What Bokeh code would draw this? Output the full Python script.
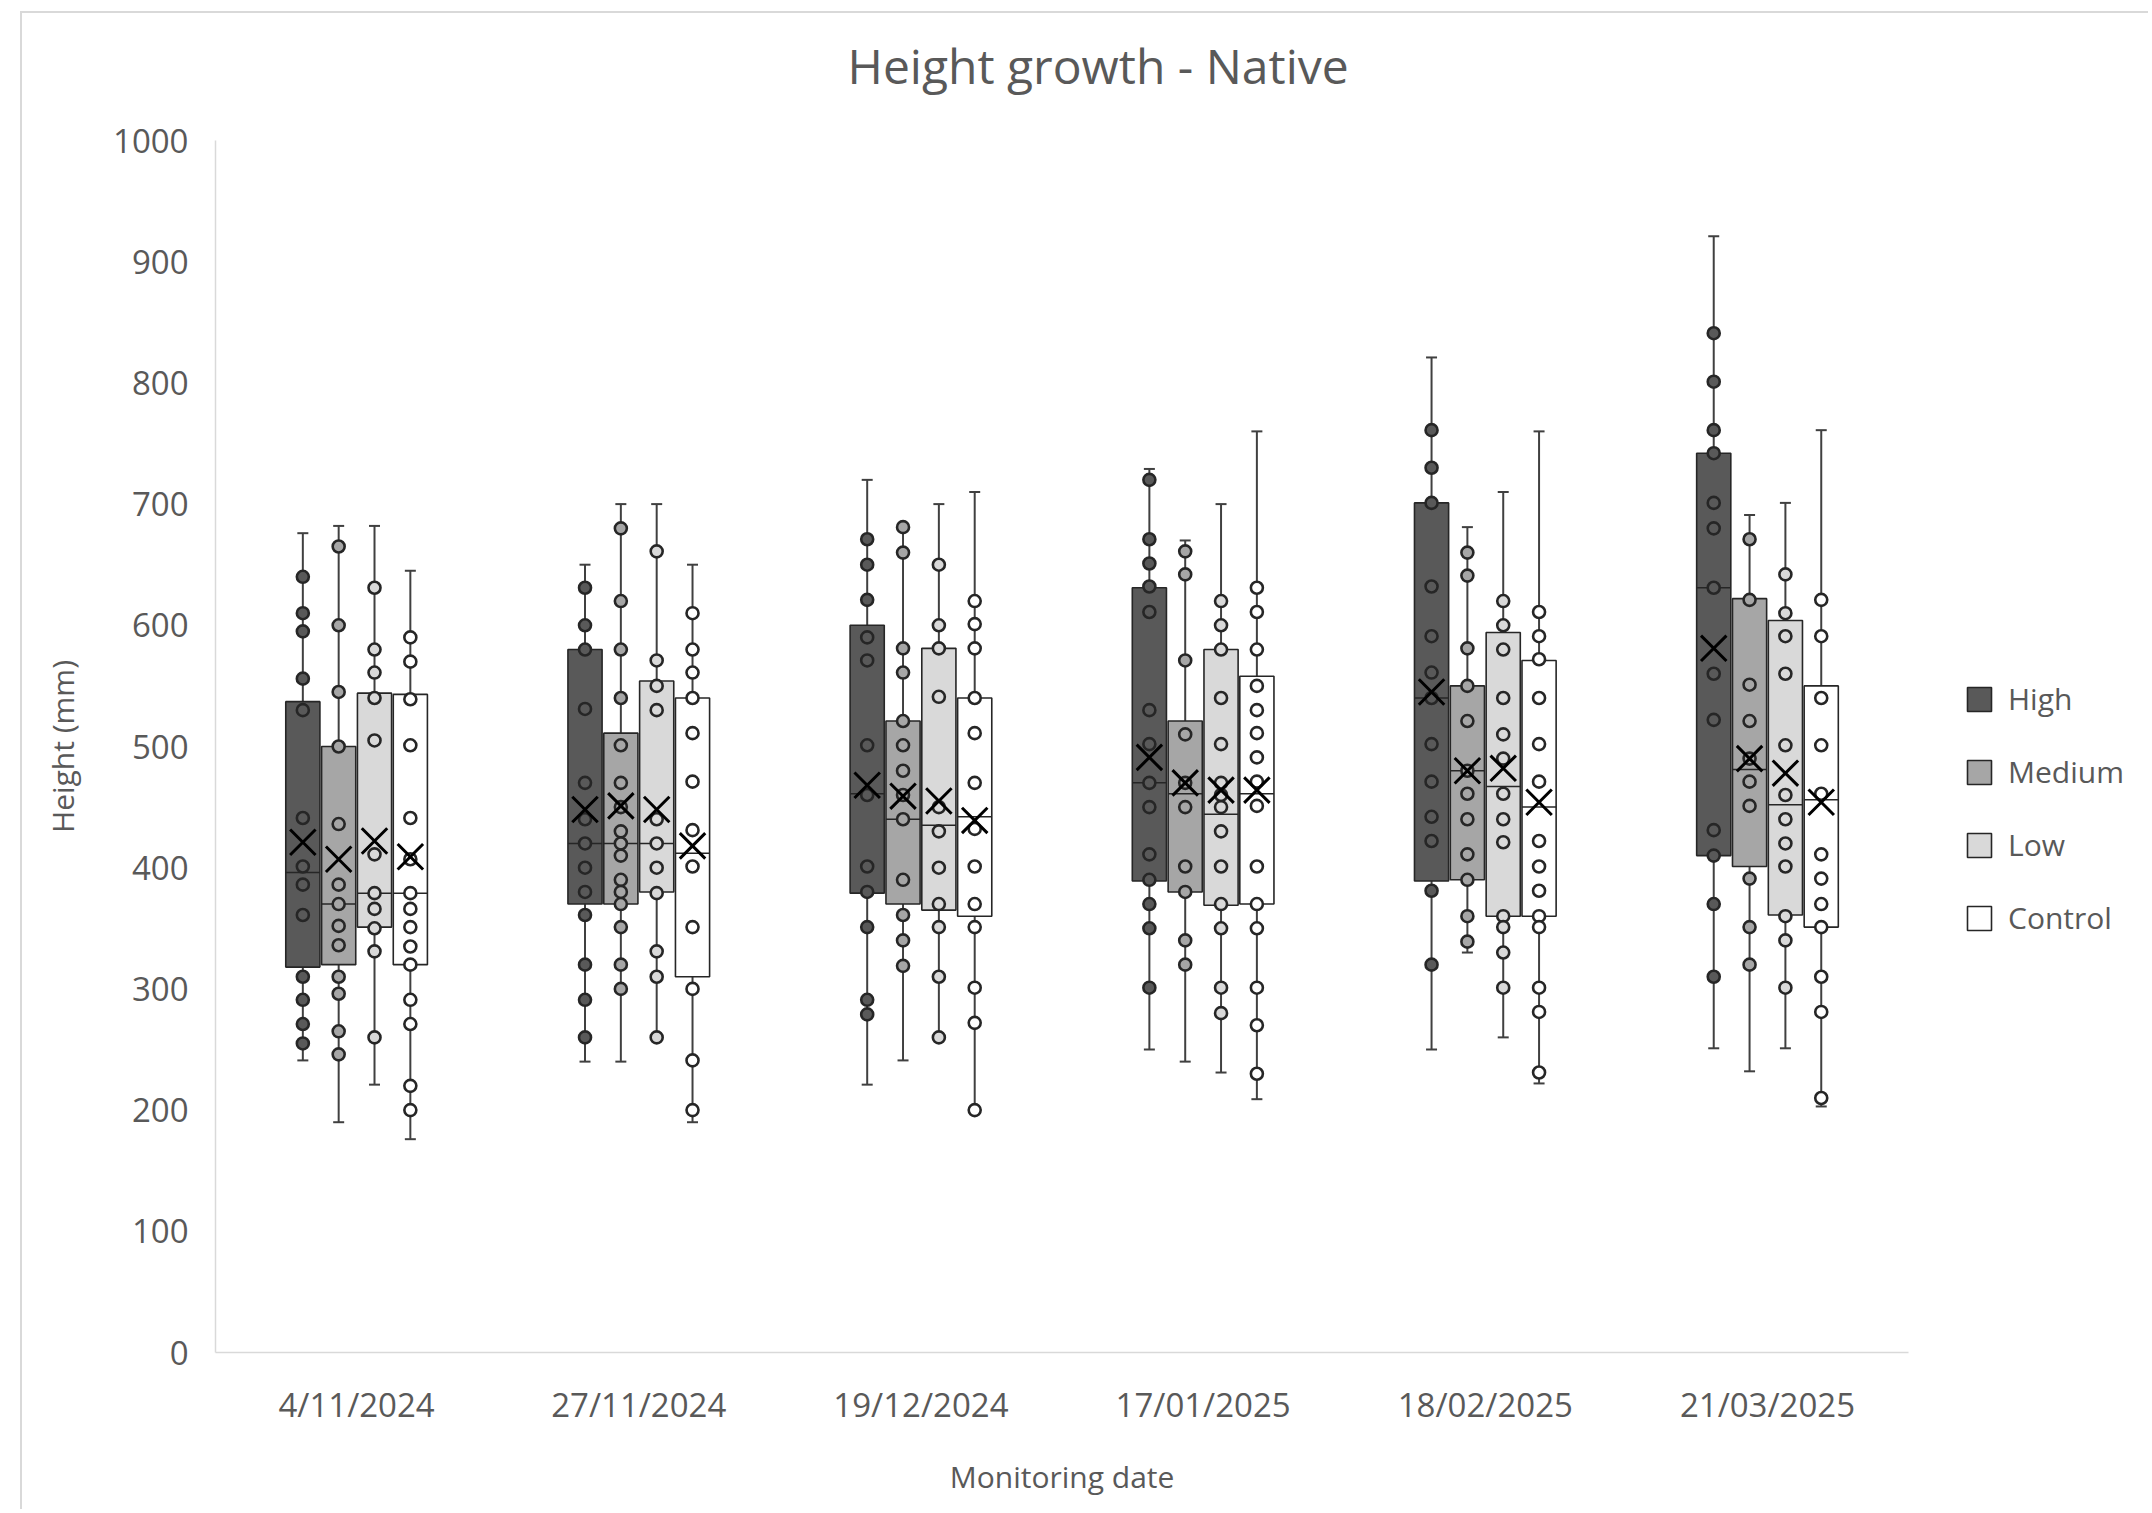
from bokeh.plotting import figure
from bokeh.models import ColumnDataSource, FixedTicker, Legend, LegendItem, Range1d, Title
from bokeh.transform import dodge
from bokeh.embed import file_html
from bokeh.resources import INLINE

# ---------------- data ----------------
dates = ["4/11/2024", "27/11/2024", "19/12/2024", "17/01/2025", "18/02/2025", "21/03/2025"]
series = ["High", "Medium", "Low", "Control"]
y_ticks = [0, 100, 200, 300, 400, 500, 600, 700, 800, 900, 1000]

high_min = [241, 240, 221, 250, 250, 251]
high_q1 = [318, 370, 379, 389, 389, 410]
high_median = [396, 420, 461, 470, 540, 631]
high_q3 = [537, 580, 600, 631, 701, 742]
high_max = [676, 650, 720, 729, 821, 921]
high_mean = [421, 448, 468, 491, 545, 581]
high_points = [
    [640, 610, 595, 556, 530, 441, 401, 386, 361, 310, 291, 271, 255],
    [631, 600, 580, 531, 470, 440, 420, 400, 380, 361, 320, 291, 260],
    [671, 650, 621, 590, 571, 501, 460, 401, 380, 351, 291, 279],
    [720, 671, 651, 632, 611, 530, 502, 470, 450, 411, 390, 370, 350, 301],
    [761, 730, 701, 632, 591, 561, 540, 502, 471, 442, 422, 381, 320],
    [841, 801, 761, 742, 701, 680, 631, 560, 522, 431, 410, 370, 310],
]

medium_min = [190, 240, 241, 240, 330, 232]
medium_q1 = [320, 370, 370, 380, 390, 401]
medium_median = [370, 420, 440, 461, 480, 481]
medium_q3 = [500, 511, 521, 521, 550, 622]
medium_max = [682, 700, 681, 670, 681, 691]
medium_mean = [407, 451, 459, 470, 480, 490]
medium_points = [
    [665, 600, 545, 500, 436, 386, 370, 352, 336, 310, 296, 265, 246],
    [680, 620, 580, 540, 501, 470, 450, 430, 420, 410, 390, 380, 370, 351, 320, 300],
    [681, 660, 581, 561, 521, 501, 480, 460, 440, 390, 361, 340, 319],
    [661, 642, 571, 510, 470, 450, 401, 380, 340, 320],
    [660, 641, 581, 550, 521, 480, 461, 440, 411, 390, 360, 339],
    [671, 621, 551, 521, 490, 471, 451, 391, 351, 320],
]

low_min = [221, 260, 260, 231, 260, 251]
low_q1 = [351, 380, 365, 369, 360, 361]
low_median = [379, 420, 435, 444, 467, 452]
low_q3 = [544, 554, 581, 580, 594, 604]
low_max = [682, 700, 700, 700, 710, 701]
low_mean = [422, 448, 455, 464, 482, 478]
low_points = [
    [631, 580, 561, 540, 505, 411, 379, 366, 350, 331, 260],
    [661, 571, 550, 530, 440, 420, 400, 379, 331, 310, 260],
    [650, 600, 581, 541, 450, 430, 400, 370, 351, 310, 260],
    [620, 600, 580, 540, 502, 470, 460, 450, 430, 401, 370, 350, 301, 280],
    [620, 600, 580, 540, 510, 490, 461, 440, 421, 360, 351, 330, 301],
    [642, 610, 591, 560, 501, 460, 440, 420, 401, 360, 340, 301],
]

control_min = [176, 190, 200, 209, 222, 203]
control_q1 = [320, 310, 360, 370, 360, 351]
control_median = [379, 412, 442, 461, 450, 456]
control_q3 = [543, 540, 540, 558, 571, 550]
control_max = [645, 650, 710, 760, 760, 761]
control_mean = [409, 418, 439, 464, 454, 454]
control_points = [
    [590, 570, 539, 501, 441, 407, 379, 366, 351, 335, 320, 291, 271, 220, 200],
    [610, 580, 561, 540, 511, 471, 431, 401, 351, 300, 241, 200],
    [620, 601, 581, 540, 511, 470, 432, 401, 370, 351, 301, 272, 200],
    [631, 611, 580, 550, 530, 511, 491, 471, 451, 401, 370, 350, 301, 270, 230],
    [611, 591, 572, 540, 502, 471, 422, 401, 381, 360, 351, 301, 281, 231],
    [621, 591, 540, 501, 461, 411, 391, 370, 351, 310, 281, 210],
]

stats = {
    "High": (high_min, high_q1, high_median, high_q3, high_max, high_mean, high_points),
    "Medium": (medium_min, medium_q1, medium_median, medium_q3, medium_max, medium_mean, medium_points),
    "Low": (low_min, low_q1, low_median, low_q3, low_max, low_mean, low_points),
    "Control": (control_min, control_q1, control_median, control_q3, control_max, control_mean, control_points),
}

# category centres on a linear axis (one unit per monitoring date)
cat_x = [i + 0.5 for i in range(len(dates))]

# ---------------- style ----------------
FONT = "Open Sans"
TEXT = "#595959"
AXIS_LINE = "#d9d9d9"
fills = {"High": "#595959", "Medium": "#a6a6a6", "Low": "#d9d9d9", "Control": "#ffffff"}
EDGE = "#262626"
WHISK = "#404040"
STEP = 0.127
BOX_W = 0.121
offsets = {s: (i - 1.5) * STEP for i, s in enumerate(series)}

# canvas origin at page (22, 13): 20px/11px margin + 2px chart border
p = figure(
    x_range=Range1d(0, 6.829),
    y_range=Range1d(0, 1000),
    width=2128, height=1498,
    output_backend="svg", toolbar_location=None,
    min_border_left=193, min_border_right=8,
    min_border_top=127, min_border_bottom=159,
)
p.styles = {
    "margin-left": "20px",
    "margin-top": "11px",
    "border-left": "2px solid #d9d9d9",
    "border-top": "2px solid #d9d9d9",
}
p.outline_line_color = None
p.xgrid.grid_line_color = None
p.ygrid.grid_line_color = None
p.background_fill_color = "white"
p.border_fill_color = "white"

# real title (farther from the frame) + an empty spacer title next to the frame
p.title.text = "Height growth - Native"
p.title.align = "left"
p.title.offset = 632
p.title.text_font = FONT
p.title.text_font_size = "48px"
p.title.text_font_style = "normal"
p.title.text_color = TEXT
p.title.standoff = 2
spacer = Title(text=" ", text_font_size="1px", standoff=39)
p.add_layout(spacer, "above")

# axes
p.yaxis.ticker = FixedTicker(ticks=y_ticks)
p.xaxis.ticker = FixedTicker(ticks=cat_x)
p.xaxis.major_label_overrides = {x: d for x, d in zip(cat_x, dates)}
p.xaxis.bounds = (0, len(dates))
for ax in (p.xaxis[0], p.yaxis[0]):
    ax.axis_line_color = AXIS_LINE
    ax.axis_line_width = 1.5
    ax.major_tick_line_color = None
    ax.minor_tick_line_color = None
    ax.major_tick_out = 0
    ax.major_tick_in = 0
    ax.major_label_text_font = FONT
    ax.major_label_text_font_size = "33px"
    ax.major_label_text_color = TEXT
    ax.axis_label_text_font = FONT
    ax.axis_label_text_font_size = "30px"
    ax.axis_label_text_font_style = "normal"
    ax.axis_label_text_color = TEXT
p.yaxis.axis_label = "Height (mm)"
# the frame also spans the legend area, so the label is padded with
# no-break spaces to keep it centred under the six dates
p.xaxis.axis_label = "Monitoring date" + "\u00a0" * 30
p.yaxis.major_label_standoff = 27
p.yaxis.axis_label_standoff = 27
p.xaxis.major_label_standoff = 29
p.xaxis.axis_label_standoff = 26

legend_items = []
for s in series:
    mn, q1, med, q3, mx, mean, pts = stats[s]
    off = offsets[s]
    src = ColumnDataSource(dict(cx=cat_x, lo=mn, q1=q1, med=med, q3=q3, hi=mx, mean=mean))
    xs = dodge("cx", off)
    # whiskers
    p.segment(x0=xs, y0="q3", x1=xs, y1="hi", source=src, line_color=WHISK, line_width=2)
    p.segment(x0=xs, y0="q1", x1=xs, y1="lo", source=src, line_color=WHISK, line_width=2)
    p.scatter(x=xs, y="hi", source=src, marker="dash", size=11, line_color=WHISK, line_width=2)
    p.scatter(x=xs, y="lo", source=src, marker="dash", size=11, line_color=WHISK, line_width=2)
    # box
    r = p.vbar(x=xs, top="q3", bottom="q1", width=BOX_W, source=src,
               fill_color=fills[s], line_color=EDGE, line_width=1.6)
    legend_items.append(LegendItem(label=s, renderers=[r]))
    # median
    p.segment(x0=dodge("cx", off - BOX_W / 2), y0="med",
              x1=dodge("cx", off + BOX_W / 2), y1="med",
              source=src, line_color=EDGE, line_width=1.5)
    # inner points
    pt_x = [c for c, ps in zip(cat_x, pts) for _ in ps]
    pt_y = [v for ps in pts for v in ps]
    psrc = ColumnDataSource(dict(cx=pt_x, y=pt_y))
    p.scatter(x=dodge("cx", off), y="y", source=psrc, marker="circle",
              size=12, fill_color=fills[s], line_color=EDGE, line_width=2.6)
    # mean
    p.scatter(x=xs, y="mean", source=src, marker="x", size=36, line_color="#000000", line_width=3)

legend = Legend(items=legend_items, location=(1749, 414))
legend.border_line_color = None
legend.background_fill_alpha = 0
legend.padding = 0
legend.margin = 0
legend.glyph_width = 30
legend.glyph_height = 30
legend.label_height = 30
legend.spacing = 32
legend.label_standoff = 14
legend.label_text_font = FONT
legend.label_text_font_size = "30px"
legend.label_text_color = TEXT
p.add_layout(legend)

open("out.html", "w").write(file_html(p, INLINE))
